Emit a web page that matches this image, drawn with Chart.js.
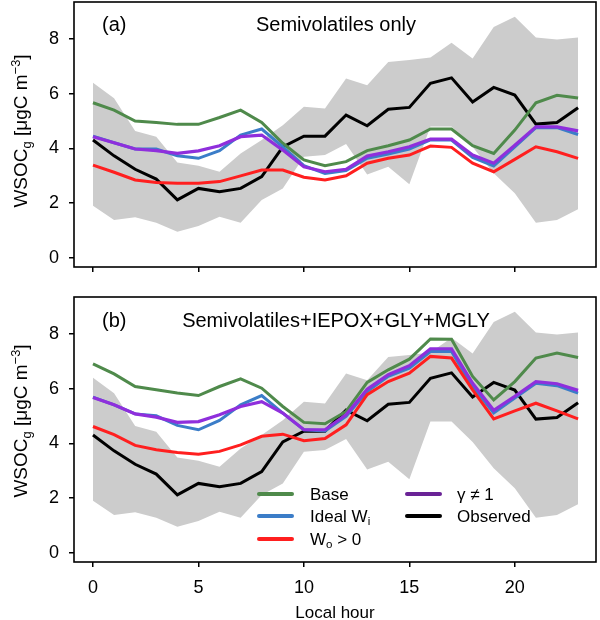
<!DOCTYPE html>
<html>
<head>
<meta charset="utf-8">
<script src="https://cdn.jsdelivr.net/npm/chart.js"></script>
<style>
  html, body { margin:0; padding:0; background:#fff; }
  #wrap { position:relative; width:600px; height:620px; overflow:hidden; font-family:"Liberation Sans", Arial, sans-serif; color:#000; }
  canvas { position:absolute; left:0; }
  .txt { position:absolute; white-space:nowrap; line-height:1; }
  .ytitle { position:absolute; white-space:nowrap; line-height:1; font-size:19px; transform:translate(-50%,-50%) rotate(-90deg); }
  sub, sup { font-size:0.68em; line-height:0; position:relative; vertical-align:baseline; }
  sub { top:0.3em; }
  sup { top:-0.55em; }
  .sw { position:absolute; height:4px; width:37px; border-radius:2px; }
  .lg { position:absolute; font-size:17px; line-height:1; white-space:nowrap; }
</style>
</head>
<body>
<div id="wrap">
  <canvas id="ca" width="600" height="285" style="top:0px"></canvas>
  <canvas id="cb" width="600" height="325" style="top:295px"></canvas>

  <div class="ytitle" style="left:20px; top:131px;">WSOC<sub>g</sub> [μgC m<sup>−3</sup>]</div>
  <div class="ytitle" style="left:20px; top:421px;">WSOC<sub>g</sub> [μgC m<sup>−3</sup>]</div>

  <div class="txt" style="left:102px; top:14px; font-size:20px;">(a)</div>
  <div class="txt" style="left:336px; top:14px; font-size:20px; transform:translateX(-50%);">Semivolatiles only</div>
  <div class="txt" style="left:102px; top:310px; font-size:20px;">(b)</div>
  <div class="txt" style="left:336px; top:310px; font-size:20px; transform:translateX(-50%);">Semivolatiles+IEPOX+GLY+MGLY</div>

  <div class="sw" style="left:257px; top:492px; background:#4f8a4b;"></div>
  <div class="lg" style="left:310px; top:486px;">Base</div>
  <div class="sw" style="left:257px; top:514px; background:#3b7dc8;"></div>
  <div class="lg" style="left:310px; top:508px;">Ideal W<sub>i</sub></div>
  <div class="sw" style="left:257px; top:537px; background:#ff1f1f;"></div>
  <div class="lg" style="left:310px; top:531px;">W<sub>o</sub> &gt; 0</div>
  <div class="sw" style="left:405px; top:492px; background:#6a2396;"></div>
  <div class="lg" style="left:457px; top:486px;">γ ≠ 1</div>
  <div class="sw" style="left:405px; top:514px; background:#000;"></div>
  <div class="lg" style="left:457px; top:508px;">Observed</div>
</div>

<script>
// ---- data ----
const hours = [0,1,2,3,4,5,6,7,8,9,10,11,12,13,14,15,16,17,18,19,20,21,22,23];
const xTickValues = [0,5,10,15,20];
const yTickValues = [0,2,4,6,8];

// Observations (same in both panels)
const observed = [4.31,3.73,3.24,2.88,2.12,2.54,2.42,2.54,2.97,4.06,4.45,4.45,5.22,4.83,5.43,5.50,6.38,6.58,5.70,6.23,5.95,4.89,4.95,5.49];
const obsUpper = [6.40,5.83,4.64,4.43,3.49,3.37,3.15,3.82,4.31,4.85,5.52,5.46,6.56,6.31,7.16,7.23,7.32,7.86,7.29,8.44,8.81,8.05,7.98,8.05];
const obsLower = [1.91,1.39,1.49,1.29,0.96,1.17,1.51,1.29,2.12,2.54,3.70,3.76,4.16,3.05,3.33,2.69,4.80,4.80,4.05,3.09,2.36,1.29,1.39,1.78];

// Panel (a): Semivolatiles only
const aBase  = [5.67,5.40,5.00,4.95,4.88,4.88,5.13,5.40,4.95,4.19,3.58,3.37,3.52,3.92,4.10,4.31,4.71,4.71,4.10,3.82,4.67,5.67,5.94,5.84];
const aIdeal = [4.45,4.21,3.98,3.98,3.73,3.64,3.92,4.49,4.71,4.06,3.37,3.09,3.19,3.64,3.80,3.98,4.31,4.31,3.67,3.36,4.06,4.76,4.76,4.51];
const aWo    = [3.39,3.13,2.85,2.76,2.73,2.73,2.79,3.00,3.21,3.21,2.95,2.85,3.00,3.46,3.64,3.76,4.09,4.04,3.46,3.15,3.60,4.06,3.88,3.64];
const aGamma = [4.43,4.21,3.98,3.92,3.82,3.91,4.10,4.43,4.49,3.94,3.33,3.15,3.24,3.72,3.88,4.06,4.34,4.34,3.76,3.46,4.12,4.79,4.79,4.64];

// Panel (b): Semivolatiles+IEPOX+GLY+MGLY
const bBase  = [6.91,6.54,6.08,5.96,5.84,5.75,6.08,6.36,6.02,5.35,4.77,4.72,5.17,6.23,6.69,7.08,7.82,7.81,6.45,5.59,6.26,7.12,7.30,7.14];
const bIdeal = [5.69,5.41,5.08,5.01,4.66,4.50,4.84,5.41,5.75,5.11,4.50,4.46,4.99,5.90,6.45,6.75,7.36,7.36,6.08,5.11,5.66,6.20,6.11,5.84];
const bWo    = [4.62,4.32,3.93,3.77,3.67,3.61,3.71,3.95,4.26,4.34,4.10,4.18,4.68,5.78,6.26,6.57,7.18,7.12,5.96,4.90,5.19,5.47,5.19,4.90];
const bGamma = [5.68,5.41,5.08,4.96,4.77,4.80,5.05,5.35,5.53,5.11,4.50,4.50,5.05,5.98,6.51,6.84,7.46,7.46,6.20,5.21,5.72,6.26,6.18,5.94];

// ---- styles ----
const FONT = "'Liberation Sans', Arial, sans-serif";
const C = { base:'#4f8a4b', ideal:'#3b7dc8', wo:'#ff1f1f', gamma:'#8f2fdc', obs:'#000000', band:'#cccccc' };

function pts(arr){ return hours.map((h,i)=>({x:h, y:arr[i]})); }

const framePlugin = {
  id:'frame',
  afterDatasetsDraw(chart){
    const {ctx, chartArea:a} = chart;
    ctx.save();
    ctx.strokeStyle = '#000';
    ctx.lineWidth = 1.6;
    ctx.strokeRect(a.left, a.top, a.right-a.left, a.bottom-a.top);
    ctx.restore();
  }
};

function line(label, arr, color, order, width){
  return { label, data:pts(arr), borderColor:color, backgroundColor:color, borderWidth:width||3,
           pointRadius:0, tension:0, fill:false, order, borderJoinStyle:'miter' };
}

function noPad(s){ s.paddingTop = 0; s.paddingBottom = 0; s.paddingLeft = 0; s.paddingRight = 0; }

function makePanel(id, base, ideal, wo, gamma, showX){
  return new Chart(document.getElementById(id), {
    type:'line',
    data:{ datasets:[
      { label:'lower', data:pts(obsLower), borderWidth:0, pointRadius:0, fill:false, order:10, borderColor:'rgba(0,0,0,0)' },
      { label:'upper', data:pts(obsUpper), borderWidth:0, pointRadius:0, fill:'-1', order:10, borderColor:'rgba(0,0,0,0)', backgroundColor:C.band },
      line('Observed', observed, C.obs, 5),
      line('Base', base, C.base, 4),
      line('Ideal Wi', ideal, C.ideal, 3),
      line('Wo > 0', wo, C.wo, 2),
      line('γ ≠ 1', gamma, C.gamma, 1, 3.2)
    ]},
    options:{
      responsive:false, animation:false, devicePixelRatio:1,
      layout:{ padding:{ top:2, right:4, left:0, bottom:0 } },
      plugins:{ legend:{display:false}, tooltip:{enabled:false} },
      scales:{
        x:{ type:'linear', min:-0.9, max:23.85,
            afterBuildTicks:s=>{ s.ticks = xTickValues.map(v=>({value:v})); },
            afterFit:s=>{ s.height = showX ? 58 : 18; noPad(s); },
            grid:{ drawOnChartArea:false, drawTicks:true, tickLength:5, color:'#000', lineWidth:1.5 },
            border:{ display:false },
            ticks:{ display:showX, color:'#000', font:{ size:18, family:FONT }, padding:10, maxRotation:0, autoSkip:false },
            title:{ display:showX, text:'Local hour', color:'#000', font:{ size:17, family:FONT }, padding:{ top:0, bottom:-4 } }
        },
        y:{ min:-0.33, max:9.35,
            afterBuildTicks:s=>{ s.ticks = yTickValues.map(v=>({value:v})); },
            afterFit:s=>{ s.width = 74; noPad(s); },
            grid:{ drawOnChartArea:false, drawTicks:true, tickLength:5, color:'#000', lineWidth:1.5 },
            border:{ display:false },
            ticks:{ color:'#000', font:{ size:18, family:FONT }, padding:10 }
        }
      }
    },
    plugins:[framePlugin]
  });
}

makePanel('ca', aBase, aIdeal, aWo, aGamma, false);
makePanel('cb', bBase, bIdeal, bWo, bGamma, true);
</script>
</body>
</html>
